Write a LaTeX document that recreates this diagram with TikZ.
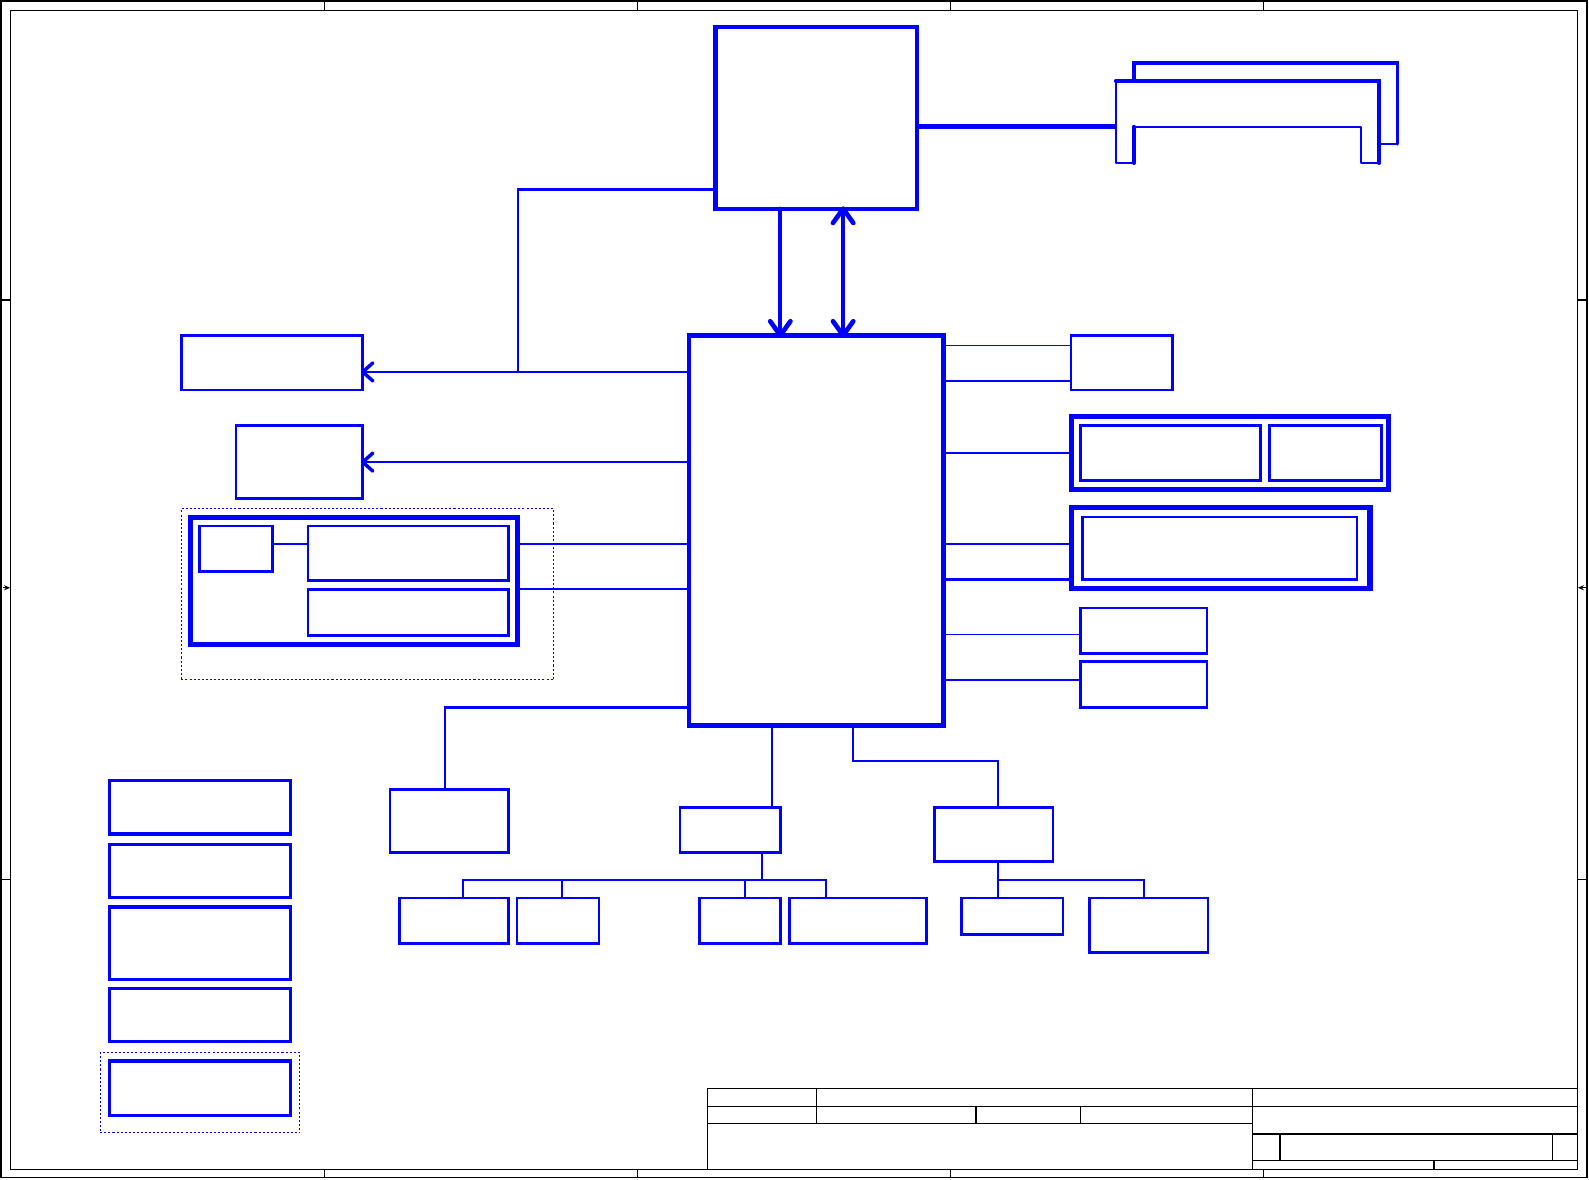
\documentclass[tikz,border=0pt]{standalone}
\usepackage{tikz}
\usetikzlibrary{arrows.meta,fit,calc}
\tikzset{
  bloc/.style={draw=blue,line width=0.026cm,inner sep=0pt,outer sep=0pt},
  epais/.style={bloc,line width=0.042cm},
  cadre/.style={bloc,line width=0.052cm},
  zone/.style={draw=blue,line width=0.01cm,dash pattern=on 0.02cm off 0.02cm,
    inner sep=0pt,outer sep=0pt},
  lien/.style={draw=blue,line width=0.024cm},
  fin/.style={draw=blue,line width=0.016cm},
  bus/.style={draw=blue,line width=0.042cm,line cap=round},
  barbe/.style={draw=blue,line width=0.046cm,line cap=round,line join=round},
  barbefine/.style={draw=blue,line width=0.034cm,line cap=round,line join=round},
  bord/.style={draw=black,line width=0.012cm},
}

\begin{document}
\begin{tikzpicture}[x=0.01cm,y=-0.01cm]
  \useasboundingbox (0,0) rectangle (1568,1164);
  % cadre de la feuille
  \draw[bord] (1,1) rectangle (1566,1162);
  \draw[bord] (10,10) rectangle (1557,1154);
  \foreach \x in {320,629,938,1247}{
    \draw[bord] (\x,1) -- (\x,10);
    \draw[bord] (\x,1154) -- (\x,1162);
  }
  \foreach \y in {296,868}{
    \draw[bord] (1,\y) -- (10,\y);
    \draw[bord] (1557,\y) -- (1566,\y);
  }
  \draw[bord,-{Stealth[length=0.06cm,width=0.05cm]}] (3,580) -- (10,580);
  \draw[bord,-{Stealth[length=0.06cm,width=0.05cm]}] (1565,580) -- (1557,580);
  % cartouche
  \draw[bord] (698,1074) rectangle (1557,1154);
  \draw[bord] (698,1092) -- (1557,1092);
  \draw[bord] (698,1109) -- (1236,1109);
  \draw[bord] (1236,1119) -- (1557,1119);
  \draw[bord] (1236,1145) -- (1557,1145);
  \draw[bord] (806,1074) -- (806,1109);
  \draw[bord] (963,1092) -- (963,1109);
  \draw[bord] (1066,1092) -- (1066,1109);
  \draw[bord] (1236,1074) -- (1236,1154);
  \draw[bord] (1263,1119) -- (1263,1145);
  \draw[bord] (1532,1119) -- (1532,1145);
  \draw[bord] (1415,1145) -- (1415,1154);

  % blocs principaux
  \node[epais,fit={(706,27) (905,206)}] (cpu) {};
  \node[epais,fit={(680,331) (931,716)}] (mch) {};
  \coordinate (ta) at (mch.north -| 770,0);
  \coordinate (tb) at (mch.north -| 832,0);
  \coordinate (tc) at (cpu.south -| 832,0);
  \draw[bus] (cpu.south -| ta) -- (ta);
  \draw[barbe] ($(ta)+(-10,-14)$) -- (ta) -- ++(10,-14);
  \draw[bus] (tc) -- (tb);
  \draw[barbe] ($(tb)+(-10,-14)$) -- (tb) -- ++(10,-14);
  \draw[barbe] ($(tc)+(-10,14)$) -- (tc) -- ++(10,14);

  % barrettes memoire
  \coordinate (dimm) at (1101,125);
  \draw[bus,line width=0.046cm,line cap=butt] (cpu.east |- dimm) -- (dimm);
  \draw[fin,line width=0.02cm,line cap=round,line join=round]
    (1119,125) -- (1343,125) -- (1343,161) -- (1361,161) -- (1361,80)
    -- (1101,80) -- (1101,161) -- (1119,161) -- cycle;
  \draw[bus,line width=0.036cm] (1101,80) -- (1361,80) -- (1361,161);
  \draw[bus,line width=0.036cm] (1119,125) -- (1119,161);
  \draw[bus,line width=0.034cm] (1119,80) -- (1119,62) -- (1379,62) -- (1379,142);
  \draw[fin,line width=0.02cm,line cap=round] (1379,142) -- (1361,142);

  % cote gauche
  \node[bloc,fit={(179,331) (358,385)}] (vga) {};
  \node[bloc,fit={(233,420) (358,492)}] (lcd) {};
  \coordinate (jct) at (511,367);
  \draw[lien] (cpu.west |- 0,187) -| (jct);
  \coordinate (td) at (vga.east |- 0,367);
  \coordinate (te) at (lcd.east |- 0,456);
  \draw[lien] (mch.west |- td) -- (td);
  \draw[barbefine] ($(td)+(10,-9)$) -- (td) -- ++(10,9);
  \draw[lien] (mch.west |- te) -- (te);
  \draw[barbefine] ($(te)+(10,-9)$) -- (te) -- ++(10,9);

  \node[zone,fit={(179,502) (546,671)}] (grp) {};
  \node[cadre,fit={(188,511) (511,636)}] (gfx) {};
  \node[bloc,fit={(197,519) (269,564)}] (osc) {};
  \node[bloc,fit={(304,519) (502,573)}] (gfxa) {};
  \node[bloc,fit={(304,582) (502,627)}] (gfxb) {};
  \draw[lien] (osc.east |- 0,537) -- (gfxa.west |- 0,537);
  \draw[lien] (gfx.east |- 0,537) -- (mch.west |- 0,537);
  \draw[lien] (gfx.east |- 0,581) -- (mch.west |- 0,581);

  % bas
  \node[bloc,fit={(385,779) (502,841)}] (lan) {};
  \draw[lien] (mch.west |- 0,698) -| (lan.north -| 439,0);

  \node[bloc,fit={(671,797) (770,841)}] (usb) {};
  \draw[lien] (mch.south -| 762,0) -- (usb.north -| 762,0);
  \node[bloc,fit={(394,886) (502,931)}] (ua) {};
  \node[bloc,fit={(510,886) (591,931)}] (ub) {};
  \node[bloc,fit={(690,886) (770,931)}] (uc) {};
  \node[bloc,fit={(779,886) (914,931)}] (ud) {};
  \coordinate (bar) at (752,868);
  \draw[fin,line width=0.02cm] (usb.south -| bar) -- (bar);
  \draw[fin,line width=0.02cm] (ua.north -| 457,0) |- (bar) -| (ud.north -| 815,0);
  \draw[fin,line width=0.02cm] (ub.north -| 555,0) -- (bar -| 555,0);
  \draw[fin,line width=0.02cm] (uc.north -| 735,0) -- (bar -| 735,0);

  \node[bloc,fit={(922,797) (1039,850)}] (lpc) {};
  \draw[fin,line width=0.02cm] (mch.south -| 842,0) -- ++(0,35) -| (lpc.north -| 985,0);
  \node[bloc,fit={(949,886) (1049,922)}] (la) {};
  \node[bloc,fit={(1075,886) (1192,940)}] (lb) {};
  \coordinate (bar2) at (985,868);
  \draw[fin,line width=0.02cm] (lpc.south -| bar2) -- (la.north -| bar2);
  \draw[fin,line width=0.02cm] (bar2) -| (lb.north -| 1129,0);

  % cote droit
  \node[bloc,fit={(1057,331) (1157,385)}] (ra) {};
  \draw[fin] (mch.east |- 0,341) -- (ra.west |- 0,341);
  \draw[fin] (mch.east |- 0,376) -- (ra.west |- 0,376);
  \node[cadre,fit={(1057,411) (1370,483)}] (rb) {};
  \node[bloc,fit={(1066,420) (1244,474)}] (rba) {};
  \node[bloc,fit={(1253,420) (1363,474)}] (rbb) {};
  \draw[lien] (mch.east |- 0,447) -- (rb.west |- 0,447);
  \node[cadre,fit={(1057,501) (1352,581)}] (rc) {};
  \node[bloc,fit={(1068,510) (1339,572)}] (rca) {};
  \draw[lien] (mch.east |- 0,537) -- (rc.west |- 0,537);
  \draw[lien,line width=0.03cm] (mch.east |- 0,572) -- (rc.west |- 0,572);
  \node[bloc,fit={(1066,600) (1191,645)}] (rd) {};
  \draw[fin] (mch.east |- 0,626) -- (rd.west |- 0,626);
  \node[bloc,fit={(1066,653) (1191,698)}] (re) {};
  \draw[lien,line width=0.02cm] (mch.east |- 0,671) -- (re.west |- 0,671);

  % colonne de gauche
  \node[bloc,line width=0.03cm,fit={(108,770) (287,823)}] (pa) {};
  \node[bloc,line width=0.03cm,fit={(108,833) (287,886)}] (pb) {};
  \node[bloc,line width=0.03cm,fit={(108,895) (287,967)}] (pc) {};
  \node[bloc,line width=0.03cm,fit={(108,975) (287,1028)}] (pd) {};
  \node[zone,fit={(99,1039) (296,1118)}] (grp2) {};
  \node[bloc,line width=0.03cm,fit={(108,1047) (287,1101)}] (pe) {};
\end{tikzpicture}
\end{document}
